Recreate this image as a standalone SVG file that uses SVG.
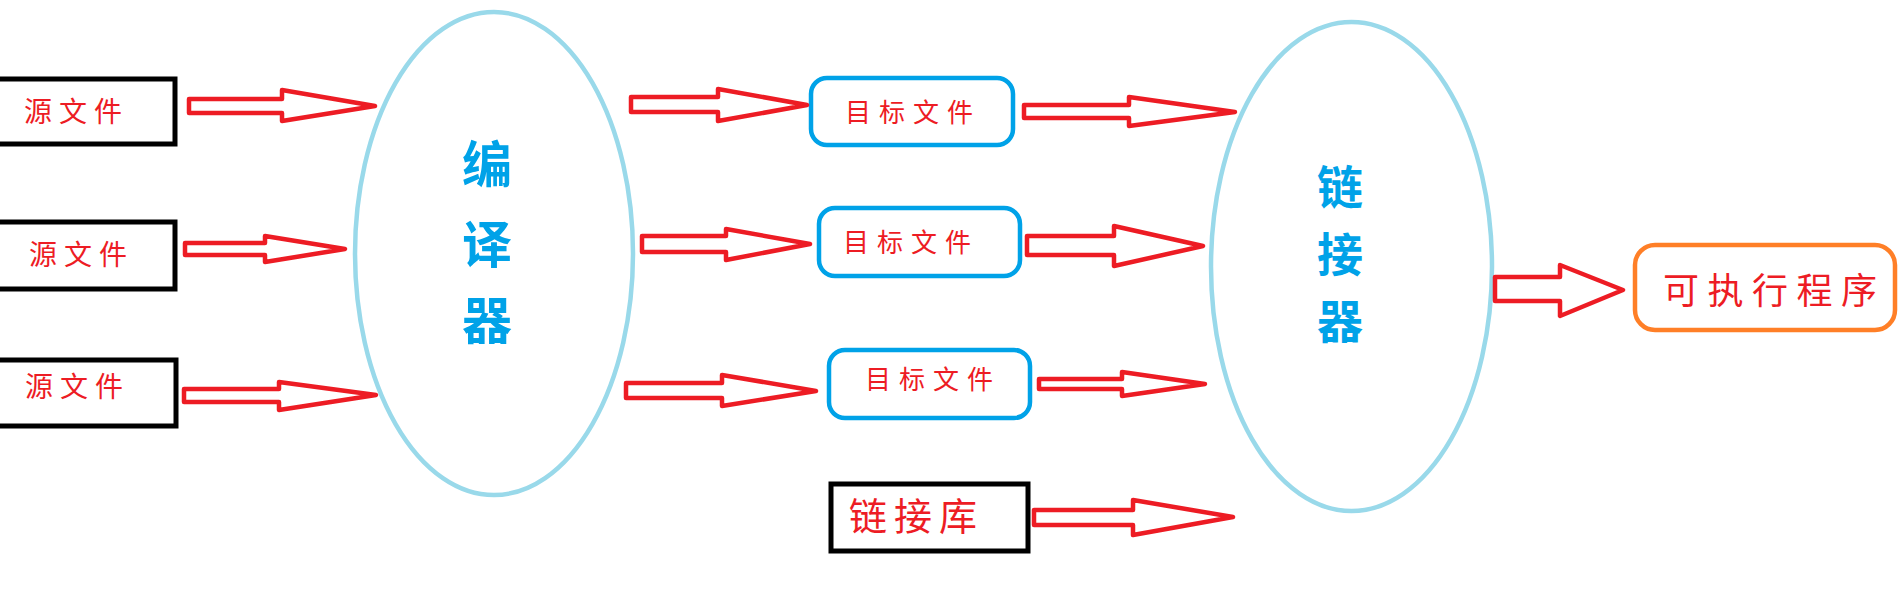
<svg xmlns="http://www.w3.org/2000/svg" width="1900" height="612" viewBox="0 0 1900 612">
<style>
.bg{fill:#ffffff}
.src{fill:none;stroke:#000000;stroke-width:5}
.obj{fill:none;stroke:#00A2E8;stroke-width:4.5}
.exe{fill:none;stroke:#FF7F27;stroke-width:4.5}
.ell{fill:none;stroke:#99D9EA;stroke-width:4.5}
.arr{fill:none;stroke:#ED1C24;stroke-width:4.5;stroke-linejoin:round}
.rt{fill:#ED1C24;font-family:"Noto Sans CJK SC","Noto Sans CJK TC",sans-serif;dominant-baseline:central}
.bt{fill:#00A2E8;font-family:"Noto Sans CJK SC","Noto Sans CJK TC",sans-serif;font-weight:bold;text-anchor:middle;dominant-baseline:central}
</style>
<rect class="bg" x="0" y="0" width="1900" height="612"/>
<g id="src1"><rect class="src" x="-10" y="79" width="185" height="65"/><text class="rt" x="24" y="110" font-size="28" letter-spacing="7">源文件</text></g>
<g id="src2"><rect class="src" x="-10" y="222" width="185" height="67"/><text class="rt" x="29" y="253" font-size="28" letter-spacing="7">源文件</text></g>
<g id="src3"><rect class="src" x="-10" y="360" width="186" height="66"/><text class="rt" x="25" y="385" font-size="28" letter-spacing="7">源文件</text></g>
<g id="compiler"><ellipse class="ell" cx="494" cy="253.5" rx="139" ry="241.5"/><text class="bt" x="487" y="161" font-size="50">编</text><text class="bt" x="487" y="241" font-size="50">译</text><text class="bt" x="487" y="317" font-size="50">器</text></g>
<g id="obj1"><rect class="obj" x="811" y="78" width="202" height="67" rx="16"/><text class="rt" x="845" y="110" font-size="26" letter-spacing="8">目标文件</text></g>
<g id="obj2"><rect class="obj" x="819" y="208" width="201" height="68" rx="16"/><text class="rt" x="843" y="240" font-size="26" letter-spacing="8">目标文件</text></g>
<g id="obj3"><rect class="obj" x="829" y="350" width="201" height="68" rx="16"/><text class="rt" x="865" y="377" font-size="26" letter-spacing="8">目标文件</text></g>
<g id="lib"><rect class="src" x="831" y="484" width="197" height="67"/><text class="rt" x="849" y="513" font-size="38" letter-spacing="7">链接库</text></g>
<g id="linker"><ellipse class="ell" cx="1351.5" cy="266.5" rx="140.5" ry="244.5"/><text class="bt" x="1340" y="184" font-size="46">链</text><text class="bt" x="1340" y="251" font-size="46">接</text><text class="bt" x="1340" y="318" font-size="46">器</text></g>
<g id="exe"><rect class="exe" x="1635" y="245" width="260" height="85" rx="20"/><text class="rt" x="1663" y="288" font-size="36" letter-spacing="8.5">可执行程序</text></g>
<g id="connectors">
<polygon class="arr" points="189,99 282,99 282,90 375,106 282,121 282,113 189,113"/>
<polygon class="arr" points="185,243 265,243 265,236 345,249 265,262 265,255 185,255"/>
<polygon class="arr" points="184,389 279,389 279,382 376,395 279,410 279,402 184,402"/>
<polygon class="arr" points="631,97 718,97 718,89 807,105 718,121 718,112 631,112"/>
<polygon class="arr" points="642,236 726,236 726,229 810,244 726,260 726,252 642,252"/>
<polygon class="arr" points="626,383 722,383 722,375 816,391 722,406 722,398 626,398"/>
<polygon class="arr" points="1024,105 1129,105 1129,97 1235,112 1129,126 1129,118 1024,118"/>
<polygon class="arr" points="1027,236 1114,236 1114,226 1203,246 1114,266 1114,255 1027,255"/>
<polygon class="arr" points="1039,379 1122,379 1122,372 1205,384 1122,396 1122,389 1039,389"/>
<polygon class="arr" points="1034,510 1133,510 1133,500 1233,517 1133,535 1133,525 1034,525"/>
<polygon class="arr" points="1495,277 1560,277 1560,265 1623,290 1560,316 1560,301 1495,301"/>
</g>
</svg>
